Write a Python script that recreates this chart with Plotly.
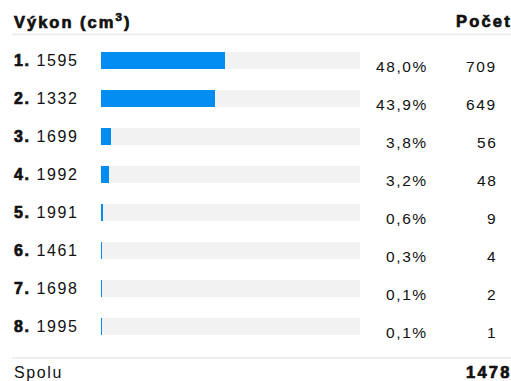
import plotly.graph_objects as go

# Engine displacement breakdown
engines = ["1595", "1332", "1699", "1992", "1991", "1461", "1698", "1995"]
counts = [709, 649, 56, 48, 9, 4, 2, 1]
shares = [48.0, 43.9, 3.8, 3.2, 0.6, 0.3, 0.1, 0.1]
total = 1478
header_left = "Výkon (cm<sup>3</sup>)"
header_right = "Počet"
footer_left = "Spolu"

W, H = 511, 381
BLUE = "#008CF0"
TRACK = "#F2F2F2"
INK = "#111111"
FONT = "Liberation Sans, Arial, Helvetica, sans-serif"


def spaced(text, ls=1.6):
    return f"<span style='letter-spacing:{ls}px'>{text}</span>"


def heavy(text, ls=1.6):
    return (f"<span style='letter-spacing:{ls}px;stroke:{INK};"
            f"stroke-width:0.7px'><b>{text}</b></span>")


rows = list(range(len(engines)))

fig = go.Figure()
# full-width background track for each row
fig.add_trace(go.Bar(
    y=rows, x=[100] * len(rows), orientation="h",
    marker=dict(color=TRACK, line=dict(width=0)),
    width=0.447, hoverinfo="skip", showlegend=False,
))
# share bars
fig.add_trace(go.Bar(
    y=rows, x=shares, orientation="h",
    marker=dict(color=BLUE, line=dict(width=0)),
    width=0.447, hoverinfo="skip", showlegend=False,
))

ann = []
for i, (name, s, c) in enumerate(zip(engines, shares, counts)):
    ann.append(dict(x=12 / W, y=i, xref="paper", yref="y", xanchor="left",
                    yanchor="middle", showarrow=False,
                    text=heavy(f"{i + 1}.") + spaced(f" {name}"),
                    font=dict(size=16, color=INK, family=FONT)))
    ann.append(dict(x=430 / W, y=i, xref="paper", yref="y", xanchor="right",
                    yanchor="middle", yshift=-6, showarrow=False,
                    text=spaced(f"{s:.1f}%".replace(".", ",")),
                    font=dict(size=15.5, color=INK, family=FONT)))
    ann.append(dict(x=499 / W, y=i, xref="paper", yref="y", xanchor="right",
                    yanchor="middle", yshift=-6, showarrow=False,
                    text=spaced(str(c)),
                    font=dict(size=15.5, color=INK, family=FONT)))

# header and footer
ann.append(dict(x=12 / W, y=1 - 21 / H, xref="paper", yref="paper",
                xanchor="left", yanchor="middle", showarrow=False,
                text=heavy(header_left, 2.0),
                font=dict(size=16.5, color=INK, family=FONT)))
ann.append(dict(x=514 / W, y=1 - 21 / H, xref="paper", yref="paper",
                xanchor="right", yanchor="middle", showarrow=False,
                text=heavy(header_right, 2.2),
                font=dict(size=16.5, color=INK, family=FONT)))
ann.append(dict(x=12 / W, y=1 - 372 / H, xref="paper", yref="paper",
                xanchor="left", yanchor="middle", showarrow=False,
                text=spaced(footer_left),
                font=dict(size=16, color=INK, family=FONT)))
ann.append(dict(x=514 / W, y=1 - 372 / H, xref="paper", yref="paper",
                xanchor="right", yanchor="middle", showarrow=False,
                text=heavy(str(total), 2.2),
                font=dict(size=16.5, color=INK, family=FONT)))

shapes = [
    dict(type="line", xref="paper", yref="paper", x0=12 / W, x1=1,
         y0=1 - 34.5 / H, y1=1 - 34.5 / H, line=dict(color="#EEEEEE", width=2)),
    dict(type="line", xref="paper", yref="paper", x0=12 / W, x1=1,
         y0=1 - 358 / H, y1=1 - 358 / H, line=dict(color="#EEEEEE", width=2)),
]

# row centre pixel = 60.5 + 38 * row
top = -60.5 / 38
bottom = (H - 60.5) / 38

fig.update_layout(
    width=W, height=H,
    margin=dict(l=0, r=0, t=0, b=0),
    paper_bgcolor="white", plot_bgcolor="white",
    barmode="overlay", bargap=0,
    xaxis=dict(domain=[101 / W, 360 / W], range=[0, 100], visible=False,
               fixedrange=True),
    yaxis=dict(domain=[0, 1], range=[bottom, top], visible=False,
               fixedrange=True),
    annotations=ann, shapes=shapes,
    showlegend=False,
)

fig.write_html("out.html")
